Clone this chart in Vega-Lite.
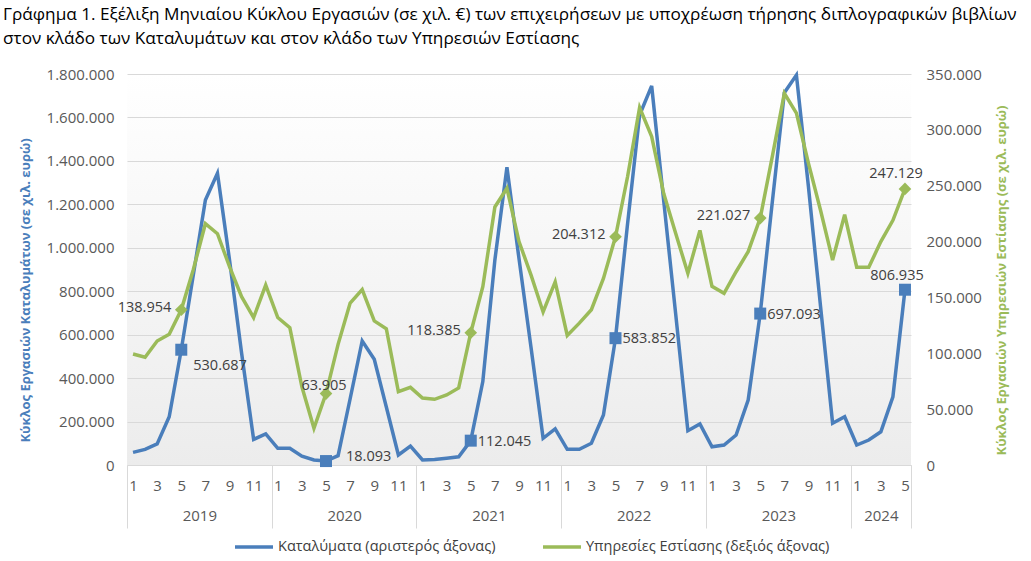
{
  "$schema": "https://vega.github.io/schema/vega-lite/v6.json",
  "width": 784,
  "height": 391,
  "autosize": {"type": "none"},
  "padding": {"left": 127, "top": 74, "right": 120, "bottom": 96},
  "background": "#ffffff",
  "config": {
    "locale": {"number": {"decimal": ",", "thousands": ".", "grouping": [3], "currency": ["", " €"]}},
    "font": "Open Sans",
    "view": {
      "stroke": null,
      "fill": {"gradient": "linear", "x1": 0, "y1": 0, "x2": 0, "y2": 1,
        "stops": [{"offset": 0, "color": "#ffffff"}, {"offset": 1, "color": "#ececec"}]}
    },
    "axis": {"labelFont": "Open Sans", "labelColor": "#595959", "labelFontSize": 15, "titleFont": "Open Sans"},
    "legend": {"labelFont": "Open Sans"}
  },
  "title": {
    "text": ["Γράφημα 1. Εξέλιξη Μηνιαίου Κύκλου Εργασιών (σε χιλ. €) των επιχειρήσεων με υποχρέωση τήρησης διπλογραφικών βιβλίων", "στον κλάδο των Καταλυμάτων και στον κλάδο των Υπηρεσιών Εστίασης"],
    "anchor": "start",
    "frame": "group",
    "dx": -124,
    "font": "Open Sans",
    "fontSize": 17.2,
    "fontWeight": "normal",
    "color": "#000000",
    "lineHeight": 24,
    "offset": 20
  },
  "data": {"values": [
    {"i": 0, "m": 1, "y": 2019, "kat": 58000, "est": 99400},
    {"i": 1, "m": 2, "y": 2019, "kat": 72000, "est": 96400},
    {"i": 2, "m": 3, "y": 2019, "kat": 97000, "est": 111000},
    {"i": 3, "m": 4, "y": 2019, "kat": 222000, "est": 117000},
    {"i": 4, "m": 5, "y": 2019, "kat": 530687, "est": 138954},
    {"i": 5, "m": 6, "y": 2019, "kat": 876000, "est": 175000},
    {"i": 6, "m": 7, "y": 2019, "kat": 1220000, "est": 216000},
    {"i": 7, "m": 8, "y": 2019, "kat": 1343000, "est": 207000},
    {"i": 8, "m": 9, "y": 2019, "kat": 944000, "est": 177500},
    {"i": 9, "m": 10, "y": 2019, "kat": 516000, "est": 150700},
    {"i": 10, "m": 11, "y": 2019, "kat": 118000, "est": 132000},
    {"i": 11, "m": 12, "y": 2019, "kat": 143000, "est": 161000},
    {"i": 12, "m": 1, "y": 2020, "kat": 77000, "est": 132000},
    {"i": 13, "m": 2, "y": 2020, "kat": 77000, "est": 123000},
    {"i": 14, "m": 3, "y": 2020, "kat": 41000, "est": 70000},
    {"i": 15, "m": 4, "y": 2020, "kat": 23000, "est": 32800},
    {"i": 16, "m": 5, "y": 2020, "kat": 18093, "est": 63905},
    {"i": 17, "m": 6, "y": 2020, "kat": 43000, "est": 108000},
    {"i": 18, "m": 7, "y": 2020, "kat": 305000, "est": 145000},
    {"i": 19, "m": 8, "y": 2020, "kat": 571000, "est": 157000},
    {"i": 20, "m": 9, "y": 2020, "kat": 487000, "est": 129000},
    {"i": 21, "m": 10, "y": 2020, "kat": 267000, "est": 122000},
    {"i": 22, "m": 11, "y": 2020, "kat": 46000, "est": 65600},
    {"i": 23, "m": 12, "y": 2020, "kat": 87000, "est": 69500},
    {"i": 24, "m": 1, "y": 2021, "kat": 23000, "est": 60000},
    {"i": 25, "m": 2, "y": 2021, "kat": 25000, "est": 58800},
    {"i": 26, "m": 3, "y": 2021, "kat": 31000, "est": 62700},
    {"i": 27, "m": 4, "y": 2021, "kat": 38000, "est": 69000},
    {"i": 28, "m": 5, "y": 2021, "kat": 112045, "est": 118385},
    {"i": 29, "m": 6, "y": 2021, "kat": 384000, "est": 159600},
    {"i": 30, "m": 7, "y": 2021, "kat": 944000, "est": 231000},
    {"i": 31, "m": 8, "y": 2021, "kat": 1371000, "est": 247700},
    {"i": 32, "m": 9, "y": 2021, "kat": 950000, "est": 200000},
    {"i": 33, "m": 10, "y": 2021, "kat": 540000, "est": 170000},
    {"i": 34, "m": 11, "y": 2021, "kat": 123000, "est": 137000},
    {"i": 35, "m": 12, "y": 2021, "kat": 166000, "est": 164000},
    {"i": 36, "m": 1, "y": 2022, "kat": 72000, "est": 116000},
    {"i": 37, "m": 2, "y": 2022, "kat": 72000, "est": 127000},
    {"i": 38, "m": 3, "y": 2022, "kat": 100000, "est": 139000},
    {"i": 39, "m": 4, "y": 2022, "kat": 230000, "est": 167000},
    {"i": 40, "m": 5, "y": 2022, "kat": 583852, "est": 204312},
    {"i": 41, "m": 6, "y": 2022, "kat": 1110000, "est": 258000},
    {"i": 42, "m": 7, "y": 2022, "kat": 1611000, "est": 320000},
    {"i": 43, "m": 8, "y": 2022, "kat": 1745000, "est": 294000},
    {"i": 44, "m": 9, "y": 2022, "kat": 1215000, "est": 243000},
    {"i": 45, "m": 10, "y": 2022, "kat": 690000, "est": 207000},
    {"i": 46, "m": 11, "y": 2022, "kat": 158000, "est": 171600},
    {"i": 47, "m": 12, "y": 2022, "kat": 189000, "est": 210000},
    {"i": 48, "m": 1, "y": 2023, "kat": 84000, "est": 160000},
    {"i": 49, "m": 2, "y": 2023, "kat": 92000, "est": 153700},
    {"i": 50, "m": 3, "y": 2023, "kat": 138000, "est": 173000},
    {"i": 51, "m": 4, "y": 2023, "kat": 299000, "est": 191000},
    {"i": 52, "m": 5, "y": 2023, "kat": 697093, "est": 221027},
    {"i": 53, "m": 6, "y": 2023, "kat": 1210000, "est": 276000},
    {"i": 54, "m": 7, "y": 2023, "kat": 1714000, "est": 332700},
    {"i": 55, "m": 8, "y": 2023, "kat": 1795000, "est": 315000},
    {"i": 56, "m": 9, "y": 2023, "kat": 1280000, "est": 270000},
    {"i": 57, "m": 10, "y": 2023, "kat": 730000, "est": 228000},
    {"i": 58, "m": 11, "y": 2023, "kat": 192000, "est": 183500},
    {"i": 59, "m": 12, "y": 2023, "kat": 222000, "est": 224000},
    {"i": 60, "m": 1, "y": 2024, "kat": 92000, "est": 177000},
    {"i": 61, "m": 2, "y": 2024, "kat": 115000, "est": 177000},
    {"i": 62, "m": 3, "y": 2024, "kat": 153000, "est": 200000},
    {"i": 63, "m": 4, "y": 2024, "kat": 314000, "est": 219000},
    {"i": 64, "m": 5, "y": 2024, "kat": 806935, "est": 247129}
  ]},
  "encoding": {
    "x": {"field": "i", "type": "quantitative", "scale": {"domain": [-0.5, 64.5], "nice": false, "zero": false}, "axis": null}
  },
  "layer": [
    {
      "mark": {"type": "line", "strokeWidth": 3.5},
      "encoding": {
        "x": {"field": "i", "type": "quantitative", "scale": {"domain": [-0.5, 64.5], "nice": false, "zero": false},
          "axis": {"orient": "bottom", "values": [0,2,4,6,8,10,12,14,16,18,20,22,24,26,28,30,32,34,36,38,40,42,44,46,48,50,52,54,56,58,60,62,64],
            "labelExpr": "'' + (datum.value % 12 + 1)", "ticks": false, "domain": true, "domainColor": "#d9d9d9", "domainWidth": 1,
            "labelPadding": 13, "grid": false, "title": null, "labelFlush": false, "labelOverlap": false}},
        "y": {"field": "kat", "type": "quantitative", "scale": {"domain": [0, 1800000]},
          "axis": {"orient": "left", "values": [0,200000,400000,600000,800000,1000000,1200000,1400000,1600000,1800000], "format": ",d",
            "grid": true, "gridColor": "#d9d9d9", "ticks": false, "domain": false, "labelPadding": 13,
            "title": "Κύκλος Εργασιών Καταλυμάτων (σε χιλ. ευρώ)", "titleColor": "#4a7ebb", "titleFontWeight": "bold", "titleFontSize": 13, "titlePadding": 14, "titleY": 216}},
        "color": {"datum": "Καταλύματα (αριστερός άξονας)", "type": "nominal",
          "scale": {"domain": ["Καταλύματα (αριστερός άξονας)", "Υπηρεσίες Εστίασης (δεξιός άξονας)"], "range": ["#4a7ebb", "#9bbb59"]},
          "legend": {"orient": "none", "legendX": 106, "legendY": 452, "direction": "horizontal", "title": null, "symbolType": "stroke", "symbolSize": 1444,
            "symbolStrokeWidth": 3.5, "labelFontSize": 14.5, "labelColor": "#404040", "labelLimit": 500, "columnPadding": 40, "labelOffset": 3}}
      }
    },
    {
      "mark": {"type": "line", "strokeWidth": 3.5},
      "encoding": {
        "x": {"field": "i", "type": "quantitative", "scale": {"domain": [-0.5, 64.5], "nice": false, "zero": false},
          "axis": {"orient": "bottom", "values": [-0.5, 11.5, 23.5, 35.5, 47.5, 59.5, 64.5], "labels": false, "ticks": true,
            "tickSize": 63, "tickColor": "#d9d9d9", "tickWidth": 1, "domain": false, "grid": false, "title": null}},
        "y": {"field": "est", "type": "quantitative", "scale": {"domain": [0, 350000]},
          "axis": {"orient": "right", "values": [0,50000,100000,150000,200000,250000,300000,350000], "format": ",d",
            "grid": false, "ticks": false, "domain": false, "labelPadding": 15,
            "title": "Κύκλος Εργασιών Υπηρεσιών Εστίασης (σε χιλ. ευρώ)", "titleColor": "#9bbb59", "titleFontWeight": "bold", "titleFontSize": 13,
            "titleAngle": 270, "titlePadding": 27, "titleY": 206}},
        "color": {"datum": "Υπηρεσίες Εστίασης (δεξιός άξονας)", "type": "nominal",
          "scale": {"domain": ["Καταλύματα (αριστερός άξονας)", "Υπηρεσίες Εστίασης (δεξιός άξονας)"], "range": ["#4a7ebb", "#9bbb59"]},
          "legend": {"orient": "none", "legendX": 106, "legendY": 452, "direction": "horizontal", "title": null, "symbolType": "stroke", "symbolSize": 1444,
            "symbolStrokeWidth": 3.5, "labelFontSize": 14.5, "labelColor": "#404040", "labelLimit": 500, "columnPadding": 40, "labelOffset": 3}}
      }
    },
    {
      "transform": [{"filter": "datum.m == 5"}],
      "mark": {"type": "point", "shape": "square", "filled": true, "size": 144, "color": "#4a7ebb", "opacity": 1},
      "encoding": {
        "x": {"field": "i", "type": "quantitative", "scale": {"domain": [-0.5, 64.5], "nice": false, "zero": false},
          "axis": {"orient": "bottom", "values": [5.5, 17.5, 29.5, 41.5, 53.5, 62], "labelExpr": "'' + (2019 + floor(datum.value / 12))",
            "ticks": false, "domain": false, "labelPadding": 43, "grid": false, "title": null, "labelFlush": false, "labelOverlap": false}},
        "y": {"field": "kat", "type": "quantitative", "scale": {"domain": [0, 1800000]}, "axis": null}
      }
    },
    {
      "transform": [{"filter": "datum.m == 5"}],
      "mark": {"type": "point", "shape": "diamond", "filled": true, "size": 160, "color": "#9bbb59", "opacity": 1},
      "encoding": {
        "y": {"field": "est", "type": "quantitative", "scale": {"domain": [0, 350000]}, "axis": null}
      }
    },
    {
      "transform": [{"filter": "datum.i == 28 || datum.i == 40 || datum.i == 52"}],
      "mark": {"type": "text", "align": "left", "dx": 7, "dy": 1, "fontSize": 14.5, "color": "#404040", "font": "Open Sans"},
      "encoding": {
        "y": {"field": "kat", "type": "quantitative", "scale": {"domain": [0, 1800000]}, "axis": null},
        "text": {"field": "kat", "type": "quantitative", "format": ",d"}
      }
    },
    {
      "transform": [{"filter": "datum.i == 4"}],
      "mark": {"type": "text", "align": "left", "dx": 12, "dy": 16, "fontSize": 14.5, "color": "#404040", "font": "Open Sans"},
      "encoding": {
        "y": {"field": "kat", "type": "quantitative", "scale": {"domain": [0, 1800000]}, "axis": null},
        "text": {"field": "kat", "type": "quantitative", "format": ",d"}
      }
    },
    {
      "transform": [{"filter": "datum.i == 16"}],
      "mark": {"type": "text", "align": "left", "dx": 20, "dy": -4, "fontSize": 14.5, "color": "#404040", "font": "Open Sans"},
      "encoding": {
        "y": {"field": "kat", "type": "quantitative", "scale": {"domain": [0, 1800000]}, "axis": null},
        "text": {"field": "kat", "type": "quantitative", "format": ",d"}
      }
    },
    {
      "transform": [{"filter": "datum.i == 64"}],
      "mark": {"type": "text", "align": "center", "dx": -8, "dy": -14, "fontSize": 14.5, "color": "#404040", "font": "Open Sans"},
      "encoding": {
        "y": {"field": "kat", "type": "quantitative", "scale": {"domain": [0, 1800000]}, "axis": null},
        "text": {"field": "kat", "type": "quantitative", "format": ",d"}
      }
    },
    {
      "transform": [{"filter": "datum.i == 4 || datum.i == 28 || datum.i == 40 || datum.i == 52"}],
      "mark": {"type": "text", "align": "right", "dx": -10, "dy": -2, "fontSize": 14.5, "color": "#404040", "font": "Open Sans"},
      "encoding": {
        "y": {"field": "est", "type": "quantitative", "scale": {"domain": [0, 350000]}, "axis": null},
        "text": {"field": "est", "type": "quantitative", "format": ",d"}
      }
    },
    {
      "transform": [{"filter": "datum.i == 16"}],
      "mark": {"type": "text", "align": "center", "dx": -2, "dy": -8, "fontSize": 14.5, "color": "#404040", "font": "Open Sans"},
      "encoding": {
        "y": {"field": "est", "type": "quantitative", "scale": {"domain": [0, 350000]}, "axis": null},
        "text": {"field": "est", "type": "quantitative", "format": ",d"}
      }
    },
    {
      "transform": [{"filter": "datum.i == 64"}],
      "mark": {"type": "text", "align": "center", "dx": -9, "dy": -15, "fontSize": 14.5, "color": "#404040", "font": "Open Sans"},
      "encoding": {
        "y": {"field": "est", "type": "quantitative", "scale": {"domain": [0, 350000]}, "axis": null},
        "text": {"field": "est", "type": "quantitative", "format": ",d"}
      }
    }
  ],
  "resolve": {"scale": {"y": "independent"}, "axis": {"x": "independent"}}
}
